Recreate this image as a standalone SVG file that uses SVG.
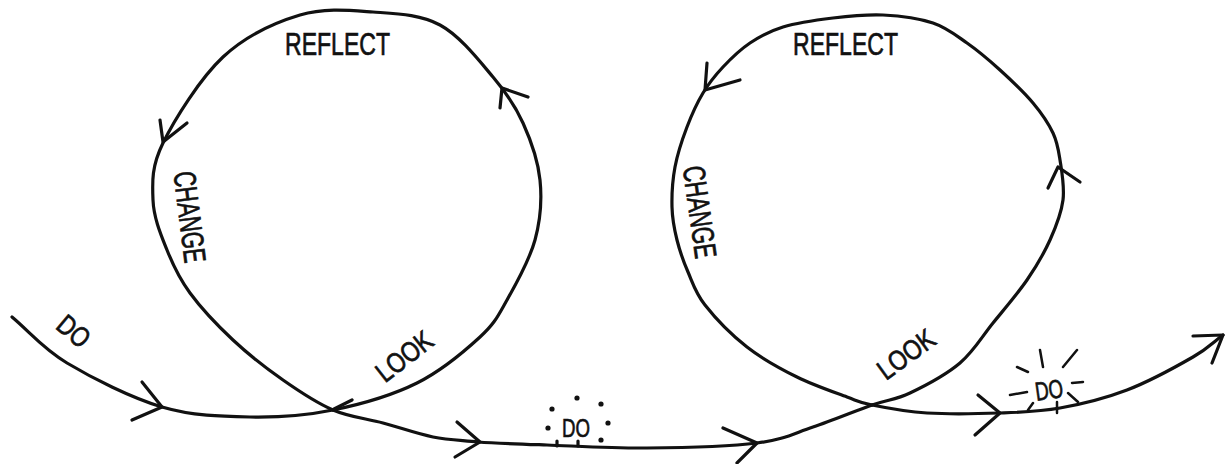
<svg xmlns="http://www.w3.org/2000/svg" width="1228" height="464" viewBox="0 0 1228 464">
<style>
.ln{fill:none;stroke:#111;stroke-width:3.2;stroke-linecap:round;stroke-linejoin:round}
.ah{fill:none;stroke:#111;stroke-width:3.2;stroke-linecap:round;stroke-linejoin:round}
.lb{font-family:"Liberation Sans",Arial,sans-serif;fill:#111;stroke:#111;stroke-width:0.7}
.dot{fill:#111}
</style>
<rect width="1228" height="464" fill="#fff"/>
<g id="connectors">
<path id="do-in" class="ln" d="M12,317 C30.3,332.3 42,348 67,363 C92,378 131.5,398 162,407 C192.5,416 221.5,416.5 250,417 C278.5,417.5 305.2,415.7 333,410"/>
<path id="loop1" class="ln" d="M333,410 C360.8,404.3 392.5,395.2 417,383 C441.5,370.8 465,350.8 480,337 C495,323.2 497.8,316.2 507,300 C516.2,283.8 529.5,260 535,240 C540.5,220 542,199.5 540,180 C538,160.5 530.8,140.2 523,123 C515.2,105.8 506.8,93.3 493,77 C479.2,60.7 460,35.8 440,25 C420,14.2 396.3,13.7 373,12 C349.7,10.3 325,7.5 300,15 C275,22.5 245.8,35.7 223,57 C200.2,78.3 174.7,119.2 163,143 C151.3,166.8 152.3,182.2 153,200 C153.7,217.8 160.8,234.5 167,250 C173.2,265.5 179,278 190,293 C201,308 217.5,325.5 233,340 C248.5,354.5 266.3,368.3 283,380 C299.7,391.7 316.3,402.8 333,410"/>
<path id="do-mid" class="ln" d="M333,410 C349.7,417.2 366.3,418.5 383,423 C399.7,427.5 417.2,433.8 433,437 C448.8,440.2 463,440.3 478,442 C497,443.3 518.8,444 547,445 C575.2,446 612,448.3 647,448 C682,447.7 729.3,446.5 757,443 C784.7,439.5 793.8,433.3 813,427 C832.2,420.7 855.8,410.7 872,405"/>
<path id="loop2" class="ln" d="M872,405 C888.2,399.3 895.3,400 910,393 C924.7,386 946.2,374.7 960,363 C973.8,351.3 981.8,336.8 993,323 C1004.2,309.2 1017.5,293.8 1027,280 C1036.5,266.2 1044,253.3 1050,240 C1056,226.7 1061.3,213.3 1063,200 C1064.7,186.7 1061.7,171.2 1060,160 C1058.3,148.8 1057.5,142.5 1053,133 C1048.5,123.5 1041.8,113.5 1033,103 C1024.2,92.5 1011,80 1000,70 C989,60 978.2,50.8 967,43 C955.8,35.2 947,27.7 933,23 C919,18.3 899.7,15.8 883,15 C866.3,14.2 849.7,16 833,18 C816.3,20 796.8,22.8 783,27 C769.2,31.2 760,36.3 750,43 C740,49.7 730.8,58.7 723,67 C715.2,75.3 709,83 703,93 C697,103 691.7,114.7 687,127 C682.3,139.3 677.5,153.7 675,167 C672.5,180.3 671.7,194.8 672,207 C672.3,219.2 674.3,229.2 677,240 C679.7,250.8 683.3,261.2 688,272 C692.7,282.8 695.2,292.5 705,305 C714.8,317.5 731.7,335 747,347 C762.3,359 780.3,368.7 797,377 C813.7,385.3 834.5,392.3 847,397 C859.5,401.7 858.7,402.3 872,405"/>
<path id="do-out" class="ln" d="M872,405 C885.3,407.7 905.7,411.7 927,413 C948.3,414.3 977.8,413.8 1000,413 C1022.2,412.2 1038.8,411.8 1060,408 C1081.2,404.2 1104.8,398.5 1127,390 C1149.2,381.5 1177,366.2 1193,357 C1209,347.8 1213,342.3 1223,335"/>
<path class="ah" d="M142,382 L162,407 L132,420"/>
<path class="ah" d="M352,400 L334,409"/>
<path class="ah" d="M457,422 L480,442 L455,457"/>
<path class="ah" d="M528,97 L502,88 L500,108"/>
<path class="ah" d="M160,120 L163,142 L187,123"/>
<path class="ah" d="M723,428 L757,443 L737,463"/>
<path class="ah" d="M707,63 L705,90 L740,80"/>
<path class="ah" d="M1048,188 L1058,167 L1080,182"/>
<path class="ah" d="M978,395 L1000,413 L975,435"/>
<path class="ah" d="M1193,336 L1223,335 L1212,363"/>
</g>
<g id="reflect-1"><text class="lb" x="285" y="55" font-size="32" textLength="105" lengthAdjust="spacingAndGlyphs">REFLECT</text></g>
<g id="change-1"><text class="lb" transform="translate(190,217) rotate(83)" x="0" y="11" text-anchor="middle" font-size="31" textLength="92" lengthAdjust="spacingAndGlyphs">CHANGE</text></g>
<g id="look-1"><text class="lb" transform="translate(404,356) rotate(-38)" x="0" y="10" text-anchor="middle" font-size="28" textLength="64" lengthAdjust="spacingAndGlyphs">LOOK</text></g>
<g id="do-1"><text class="lb" transform="translate(74,331) rotate(40)" x="0" y="10" text-anchor="middle" font-size="28" textLength="34" lengthAdjust="spacingAndGlyphs">DO</text></g>
<g id="reflect-2"><text class="lb" x="793" y="55" font-size="32" textLength="105" lengthAdjust="spacingAndGlyphs">REFLECT</text></g>
<g id="change-2"><text class="lb" transform="translate(700,212) rotate(82)" x="0" y="11" text-anchor="middle" font-size="31" textLength="93" lengthAdjust="spacingAndGlyphs">CHANGE</text></g>
<g id="look-2"><text class="lb" transform="translate(906,354) rotate(-36)" x="0" y="10" text-anchor="middle" font-size="28" textLength="64" lengthAdjust="spacingAndGlyphs">LOOK</text></g>
<g id="do-2">
<text class="lb" x="576" y="437" text-anchor="middle" font-size="26" textLength="28" lengthAdjust="spacingAndGlyphs">DO</text>
<circle class="dot" cx="577" cy="398" r="2.6"/>
<circle class="dot" cx="552" cy="409" r="2.6"/>
<circle class="dot" cx="601" cy="404" r="2.6"/>
<circle class="dot" cx="548" cy="428" r="2.6"/>
<circle class="dot" cx="608" cy="423" r="2.6"/>
<circle class="dot" cx="601" cy="440" r="2.6"/>
<path class="ah" d="M557,441 L557,446 M578,441 L578,446"/>
</g>
<g id="do-3">
<text class="lb" transform="translate(1049,390) rotate(-8)" x="0" y="9" text-anchor="middle" font-size="26" textLength="28" lengthAdjust="spacingAndGlyphs">DO</text>
<path class="ah" style="stroke-width:2.5" d="M1017,367 L1028,372 M1040,350 L1043,367 M1063,367 L1077,350 M1010,395 L1027,392 M1072,383 L1083,382 M1028,410 L1033,403 M1057,402 L1057,413 M1068,393 L1078,402"/>
</g>
</svg>
